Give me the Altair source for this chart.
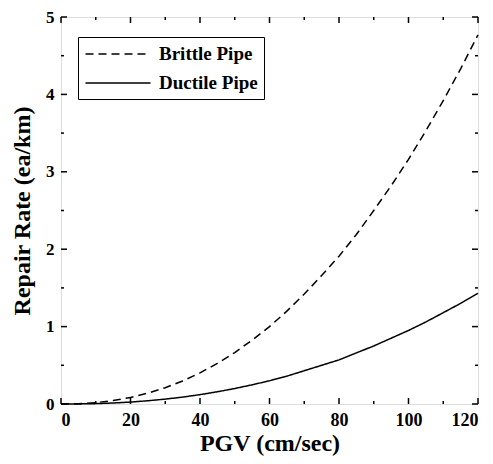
import altair as alt
import pandas as pd

pgv = [0, 5, 10, 15, 20, 25, 30, 35, 40, 45, 50, 55, 60, 65, 70, 75, 80, 85, 90, 95, 100, 105, 110, 115, 120]
brittle = [0.0, 0.004, 0.018, 0.044, 0.085, 0.140, 0.211, 0.298, 0.402, 0.525, 0.665, 0.825, 1.00, 1.20, 1.42,
           1.66, 1.91, 2.19, 2.50, 2.82, 3.16, 3.53, 3.92, 4.33, 4.77]
ductile = [0.0, 0.001, 0.005, 0.013, 0.025, 0.042, 0.063, 0.089, 0.121, 0.158, 0.200, 0.248, 0.30, 0.36, 0.43,
           0.50, 0.57, 0.66, 0.75, 0.85, 0.95, 1.06, 1.18, 1.30, 1.43]
series_names = ["Brittle Pipe", "Ductile Pipe"]

x_major = [0, 20, 40, 60, 80, 100, 120]
x_minor = [10, 30, 50, 70, 90, 110]
y_major = [0, 1, 2, 3, 4, 5]
y_minor = [0.5, 1.5, 2.5, 3.5, 4.5]

W, H = 417, 387
FONT = "Liberation Serif, Times New Roman, Times, DejaVu Serif, serif"

df = pd.DataFrame({
    "PGV": pgv * 2,
    "RR": brittle + ductile,
    "Series": [series_names[0]] * len(pgv) + [series_names[1]] * len(pgv),
})

xs = alt.Scale(domain=[0, 120], nice=False)
ys = alt.Scale(domain=[0, 5], nice=False)

lines = alt.Chart(df).mark_line(color="black", strokeWidth=1.5).encode(
    x=alt.X("PGV:Q", scale=xs, title="PGV (cm/sec)",
            axis=alt.Axis(values=x_major, format="d", ticks=False, grid=False, domain=False,
                          labelFont=FONT, labelFontWeight="bold", labelFontSize=18,
                          labelPadding=7, titleFont=FONT, titleFontWeight="bold",
                          titleFontSize=24, titlePadding=2, labelColor="black", titleColor="black")),
    y=alt.Y("RR:Q", scale=ys, title="Repair  Rate  (ea/km)",
            axis=alt.Axis(values=y_major, format="d", ticks=False, grid=False, domain=False,
                          labelFont=FONT, labelFontWeight="bold", labelFontSize=17,
                          labelPadding=7, titleFont=FONT, titleFontWeight="bold",
                          titleFontSize=24, titlePadding=11, labelColor="black", titleColor="black")),
    strokeDash=alt.StrokeDash("Series:N",
                              scale=alt.Scale(domain=series_names, range=[[8, 5], [1, 0]]),
                              legend=alt.Legend(title=None, orient="none", legendX=17, legendY=20,
                                                strokeColor="black", fillColor="white", padding=6,
                                                symbolType="M-3.25,0L3.25,0", symbolSize=400,
                                                symbolOffset=23,
                                                symbolStrokeColor="black", symbolStrokeWidth=1.5,
                                                labelFont=FONT, labelFontWeight="bold",
                                                labelFontSize=19, labelColor="black",
                                                labelOffset=30, rowPadding=8)),
)

def xticks(vals, length):
    d = pd.DataFrame({"v": vals})
    b = alt.Chart(d).mark_rule(color="black", strokeWidth=1.5)
    bottom = b.encode(x=alt.X("v:Q", scale=xs), y=alt.value(H), y2=alt.value(H - length))
    top = b.encode(x=alt.X("v:Q", scale=xs), y=alt.value(0), y2=alt.value(length))
    return [bottom, top]

def yticks(vals, length):
    d = pd.DataFrame({"v": vals})
    b = alt.Chart(d).mark_rule(color="black", strokeWidth=1.5)
    left = b.encode(y=alt.Y("v:Q", scale=ys), x=alt.value(0), x2=alt.value(length))
    right = b.encode(y=alt.Y("v:Q", scale=ys), x=alt.value(W), x2=alt.value(W - length))
    return [left, right]

layers = [lines] + xticks(x_major, 6) + xticks(x_minor, 3) + yticks(y_major, 6) + yticks(y_minor, 3)

chart = alt.layer(*layers).properties(
    width=W, height=H,
    autosize=alt.AutoSizeParams(type="none"),
    padding={"left": 53, "top": 9, "right": 7, "bottom": 52},
).configure_view(stroke="black", strokeWidth=2.5).configure(background="white")

chart.save("out.html", embed_options={"renderer": "svg", "actions": False})
